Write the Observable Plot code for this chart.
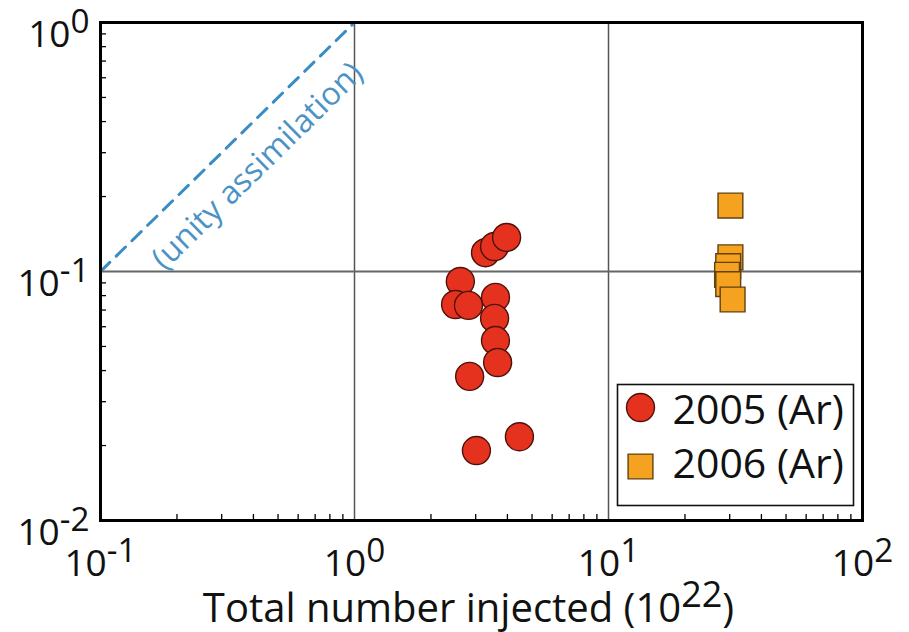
<!DOCTYPE html>
<html>
<head>
<meta charset="utf-8">
<script src="https://cdn.jsdelivr.net/npm/d3@7"></script>
<script src="https://cdn.jsdelivr.net/npm/@observablehq/plot@0.6"></script>
<style>
  html, body { margin: 0; padding: 0; background: #fff; }
  #chart svg { display: block; }
</style>
</head>
<body>
<div id="chart"></div>
<script>
// Argon campaigns: total number injected (units of 1e22) vs. assimilated fraction
const injected2005 = [2.61, 2.50, 2.81, 3.59, 3.56, 3.59, 3.66, 2.84, 3.02, 4.46, 3.28, 3.56, 3.97];
const fraction2005 = [0.0912, 0.0737, 0.0731, 0.0787, 0.0648, 0.0528, 0.0431, 0.0379, 0.0191, 0.0217, 0.119, 0.126, 0.137];
const injected2006 = [30.2, 30.2, 29.6, 29.3, 29.6, 30.8];
const fraction2006 = [0.184, 0.114, 0.105, 0.097, 0.089, 0.0772];

const seriesNames = ["2005 (Ar)", "2006 (Ar)"];
const xTicks = [0.1, 1, 10, 100];
const yTicks = [0.01, 0.1, 1];
const xGrid = [1, 10];
const yGrid = [0.1];
const unityLine = [0.1, 1];
const unityLabel = "(unity assimilation)";
const xLabel = "Total number injected (10^{22})";

const red = "#e5321f", redEdge = "#4e120b";
const orange = "#f4a21f", orangeEdge = "#62400f";
const blue = "#3a8cc4";

const rows2005 = injected2005.map((x, i) => ({x, y: fraction2005[i]}));
const rows2006 = injected2006.map((x, i) => ({x, y: fraction2006[i]}));

// minor log ticks (2..9 within each decade)
const minor = (lo, hi) => {
  const out = [];
  for (let e = lo; e < hi; e++) for (let k = 2; k <= 9; k++) out.push(k * 10 ** e);
  return out;
};
const minorX = minor(-1, 2);
const minorY = minor(-2, 0);

const expFormat = (d) => `10^{${Math.round(Math.log10(d))}}`;

const W = 909, H = 632;
const mL = 100, mR = 47, mT = 22, mB = 112;
const innerW = W - mL - mR, innerH = H - mT - mB;
const tickLen = 6;

const chart = Plot.plot({
  width: W,
  height: H,
  marginLeft: mL,
  marginRight: mR,
  marginTop: mT,
  marginBottom: mB,
  x: {type: "log", domain: [0.1, 100]},
  y: {type: "log", domain: [0.01, 1]},
  style: {fontFamily: "'Open Sans', sans-serif", background: "#fff", color: "#111", overflow: "visible"},
  marks: [
    Plot.ruleX(xGrid, {stroke: "#555", strokeWidth: 1.5}),
    Plot.ruleY(yGrid, {stroke: "#666", strokeWidth: 1.8}),
    Plot.line(unityLine, {x: d => d, y: d => d, stroke: blue, strokeWidth: 3, strokeDasharray: "13,9"}),
    Plot.text([unityLabel], {
      x: () => Math.sqrt(unityLine[0] * unityLine[1]),
      y: () => Math.sqrt(unityLine[0] * unityLine[1]),
      text: d => d, rotate: -44.4, dx: 30, dy: 19,
      fill: "#4b93c4", fontSize: 32, textAnchor: "middle", lineAnchor: "middle"
    }),
    Plot.dot(rows2005, {x: "x", y: "y", r: 14, fill: red, stroke: redEdge, strokeWidth: 1.4, symbol: "circle"}),
    Plot.dot(rows2006, {x: "x", y: "y", r: 14, fill: orange, stroke: orangeEdge, strokeWidth: 1.4, symbol: "square"}),
    Plot.tickX(minorX, {x: d => d, insetTop: innerH - tickLen, stroke: "#000", strokeWidth: 1.3}),
    Plot.tickY(minorY, {y: d => d, insetRight: innerW - tickLen, stroke: "#000", strokeWidth: 1.3}),
    Plot.axisX(xTicks, {tickSize: 0, tickPadding: 29, tickFormat: expFormat, fontSize: 37, label: null, fill: "#111"}),
    Plot.axisY(yTicks, {tickSize: 0, tickPadding: 11, tickFormat: expFormat, fontSize: 37, label: null, dy: 13, fill: "#111"}),
    Plot.text([xLabel], {frameAnchor: "bottom", text: d => d, dy: 89, dx: -13, fontSize: 40, lineAnchor: "middle", fill: "#111"}),
    Plot.frame({stroke: "#000", strokeWidth: 3}),
    // legend box inside the lower-right corner of the frame
    Plot.frame({stroke: "#111", strokeWidth: 1.6, fill: "#fff", insetLeft: 517, insetTop: 362, insetRight: 9, insetBottom: 15}),
    Plot.dot([seriesNames[0]], {frameAnchor: "bottom-right", dx: -222, dy: -113, r: 14, fill: red, stroke: redEdge, strokeWidth: 1.4, symbol: "circle"}),
    Plot.dot([seriesNames[1]], {frameAnchor: "bottom-right", dx: -222, dy: -54, r: 14, fill: orange, stroke: orangeEdge, strokeWidth: 1.4, symbol: "square"}),
    Plot.text([seriesNames[0]], {frameAnchor: "bottom-right", text: d => d, dx: -190, dy: -110, fontSize: 41, textAnchor: "start", lineAnchor: "middle", fill: "#111"}),
    Plot.text([seriesNames[1]], {frameAnchor: "bottom-right", text: d => d, dx: -190, dy: -56, fontSize: 41, textAnchor: "start", lineAnchor: "middle", fill: "#111"})
  ]
});

// turn "10^{n}" into a base plus a raised exponent
d3.select(chart).selectAll("text").each(function () {
  const m = this.textContent.match(/^(.*)\^\{([^}]*)\}(.*)$/);
  if (!m) return;
  const el = d3.select(this);
  el.text(null);
  el.append("tspan").text(m[1]);
  el.append("tspan").attr("dy", "-0.42em").attr("font-size", "0.9em").text(m[2]);
  if (m[3]) el.append("tspan").attr("dy", "0.378em").text(m[3]);
});

document.getElementById("chart").appendChild(chart);
</script>
</body>
</html>
